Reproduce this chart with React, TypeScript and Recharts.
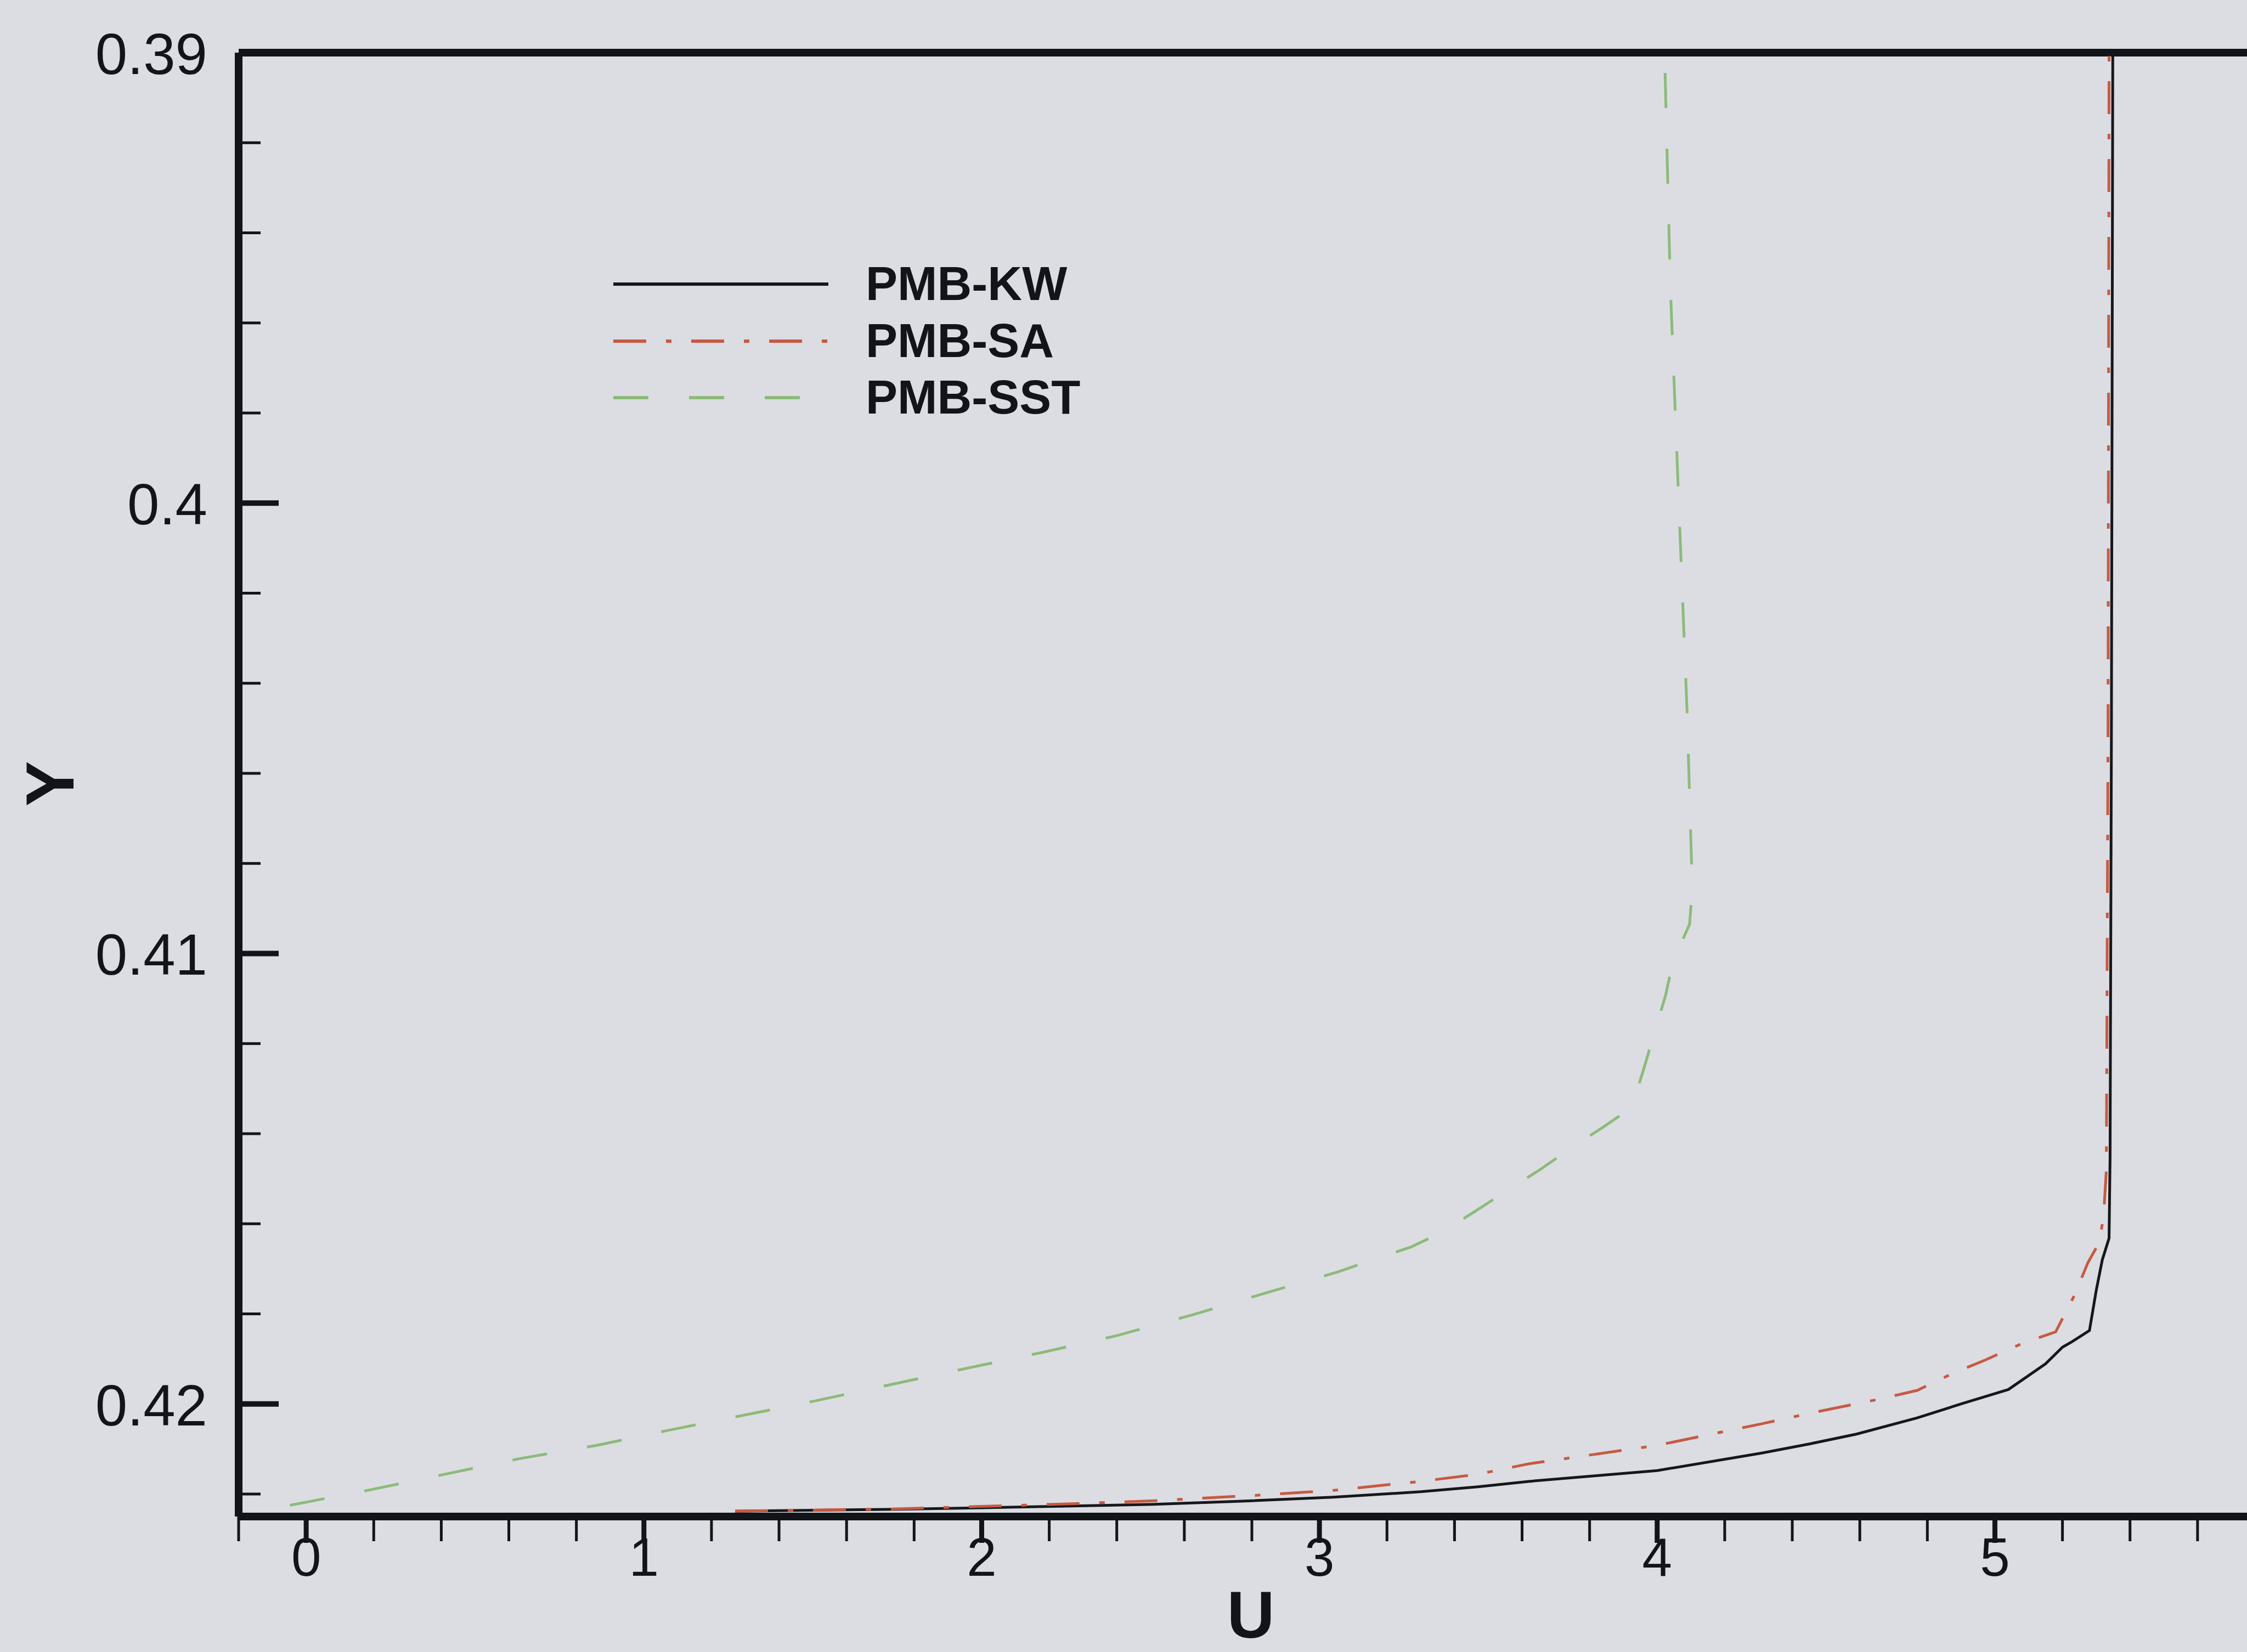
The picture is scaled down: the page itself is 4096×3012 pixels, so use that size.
import React from "react";
import { LineChart, Line, XAxis, YAxis, ReferenceLine, Legend, Label } from "recharts";

// PMB-KW (solid black)
const kwU = [1.27, 1.75, 2.25, 2.51, 2.77, 3.04, 3.3, 3.47, 3.62, 4.0, 4.31, 4.45, 4.59, 4.77, 4.9, 5.04, 5.15, 5.2, 5.23, 5.28, 5.3, 5.318, 5.338, 5.341, 5.345, 5.349];
const kwY = [0.42238, 0.42234, 0.42227, 0.42223, 0.42216, 0.42207, 0.42195, 0.42184, 0.42172, 0.42148, 0.42109, 0.42089, 0.42067, 0.42031, 0.42, 0.41968, 0.41911, 0.41874, 0.41861, 0.41837, 0.41748, 0.4168, 0.41632, 0.41454, 0.405, 0.39];

// PMB-SA (dash-dot red)
const saU = [1.27, 1.75, 2.25, 2.51, 2.81, 3.04, 3.3, 3.47, 3.62, 4.0, 4.31, 4.45, 4.66, 4.77, 4.87, 4.97, 5.08, 5.18, 5.236, 5.275, 5.31, 5.322, 5.33, 5.335, 5.338];
const saY = [0.42238, 0.42233, 0.42222, 0.42215, 0.42203, 0.42192, 0.42172, 0.42156, 0.42133, 0.42092, 0.42044, 0.42021, 0.41989, 0.4197, 0.41934, 0.41903, 0.41866, 0.4184, 0.41758, 0.41687, 0.4164, 0.4158, 0.4148, 0.405, 0.39];

// PMB-SST (dashed green)
const sstU = [-0.048, 0.181, 0.405, 0.628, 0.86, 1.076, 1.296, 1.515, 1.738, 1.961, 2.189, 2.402, 2.625, 2.844, 3.054, 3.273, 3.365, 3.462, 3.556, 3.653, 3.741, 3.841, 3.925, 3.96, 3.991, 4.025, 4.047, 4.096, 4.104, 4.089, 4.064, 4.039, 4.022];
const sstY = [0.42225, 0.42192, 0.42157, 0.42122, 0.42092, 0.42058, 0.42025, 0.41992, 0.41956, 0.4192, 0.41884, 0.41848, 0.41802, 0.41753, 0.41707, 0.41651, 0.41618, 0.41572, 0.41526, 0.4148, 0.41434, 0.41385, 0.41342, 0.41257, 0.41178, 0.41093, 0.41017, 0.40935, 0.40857, 0.40472, 0.4, 0.39518, 0.39];

const xTicks = [-0.2, 0, 0.2, 0.4, 0.6, 0.8, 1, 1.2, 1.4, 1.6, 1.8, 2, 2.2, 2.4, 2.6, 2.8, 3, 3.2, 3.4, 3.6, 3.8, 4, 4.2, 4.4, 4.6, 4.8, 5, 5.2, 5.4, 5.6, 5.8];
const yTicks = [0.39, 0.392, 0.394, 0.396, 0.398, 0.4, 0.402, 0.404, 0.406, 0.408, 0.41, 0.412, 0.414, 0.416, 0.418, 0.42, 0.422];

const FONT = "'Liberation Sans', Arial, Helvetica, sans-serif";
const INK = "#111418";

const toPoints = (u: number[], y: number[]) => u.map((v, i) => ({ u: v, y: y[i] }));

const series = [
  { name: "PMB-KW", data: toPoints(kwU, kwY), color: "#15171b", dash: undefined as string | undefined },
  { name: "PMB-SA", data: toPoints(saU, saY), color: "#c65a43", dash: "60 36 10 36" },
  { name: "PMB-SST", data: toPoints(sstU, sstY), color: "#8dba7b", dash: "64 74" },
];

const isWhole = (v: number, f: number) => Math.abs(v * f - Math.round(v * f)) < 1e-6;

function YTick(props: any) {
  const { x, y, payload } = props;
  const v = payload.value as number;
  const major = isWhole(v, 100);
  return (
    <g>
      <line x1={x} y1={y} x2={x + (major ? 73 : 40)} y2={y} stroke={INK} strokeWidth={major ? 10 : 5} />
      {major && (
        <text x={x - 57} y={y + 39} textAnchor="end" fontSize={105} fontFamily={FONT} fill={INK}>
          {String(Math.round(v * 100) / 100)}
        </text>
      )}
    </g>
  );
}

function XTick(props: any) {
  const { x, y, payload } = props;
  const v = payload.value as number;
  const major = isWhole(v, 1);
  return (
    <g>
      <line x1={x} y1={y} x2={x} y2={y + (major ? 48 : 45)} stroke={INK} strokeWidth={major ? 9 : 5} />
      {major && v >= 0 && (
        <text x={x} y={y + 108} textAnchor="middle" fontSize={98} fontFamily={FONT} fill={INK}>
          {String(Math.round(v))}
        </text>
      )}
    </g>
  );
}

function LegendBox() {
  const rows = [78, 182, 285];
  return (
    <svg width={900} height={350} style={{ display: "block" }}>
      {series.map((s, i) => (
        <g key={s.name}>
          <line x1={18} y1={rows[i]} x2={410} y2={rows[i]} stroke={s.color} strokeWidth={6} strokeDasharray={s.dash} />
          <text x={478} y={rows[i] + 29} fontSize={87} fontWeight="bold" fontFamily={FONT} fill={INK}>
            {s.name}
          </text>
        </g>
      ))}
    </svg>
  );
}

export default function App() {
  return (
    <div
      style={{
        position: "absolute",
        left: 0,
        top: 0,
        width: 4096,
        height: 3012,
        overflow: "hidden",
        background: "#dcdde2",
      }}
    >
      <LineChart width={4140} height={3012} margin={{ top: 96, right: 11, bottom: 0, left: 0 }}>
        <XAxis
          type="number"
          dataKey="u"
          domain={[-0.2, 5.8]}
          ticks={xTicks}
          interval={0}
          allowDataOverflow
          height={247}
          tickSize={0}
          tickMargin={0}
          tickLine={false}
          axisLine={{ stroke: INK, strokeWidth: 14 }}
          tick={(p: any) => <XTick {...p} />}
        >
          <Label
            content={() => (
              <text x={2280} y={2986} textAnchor="middle" fontSize={120} fontWeight="bold" fontFamily={FONT} fill={INK}>
                U
              </text>
            )}
          />
        </XAxis>
        <YAxis
          type="number"
          dataKey="y"
          domain={[0.39, 0.4225]}
          reversed
          ticks={yTicks}
          interval={0}
          allowDataOverflow
          width={435}
          tickSize={0}
          tickMargin={0}
          tickLine={false}
          axisLine={{ stroke: INK, strokeWidth: 14 }}
          tick={(p: any) => <YTick {...p} />}
        >
          <Label
            content={() => (
              <text
                transform="translate(134,1429) rotate(-90)"
                textAnchor="middle"
                fontSize={124}
                fontWeight="bold"
                fontFamily={FONT}
                fill={INK}
              >
                Y
              </text>
            )}
          />
        </YAxis>
        <ReferenceLine y={0.39} stroke={INK} strokeWidth={14} />
        <Legend
          layout="horizontal"
          verticalAlign="middle"
          align="center"
          wrapperStyle={{ left: 1100, top: 440, width: 900, height: 350 }}
          content={() => <LegendBox />}
        />
        {series.map((s) => (
          <Line
            key={s.name}
            data={s.data}
            dataKey="y"
            name={s.name}
            type="linear"
            stroke={s.color}
            strokeWidth={5}
            strokeDasharray={s.dash}
            dot={false}
            activeDot={false}
            isAnimationActive={false}
          />
        ))}
      </LineChart>
    </div>
  );
}
